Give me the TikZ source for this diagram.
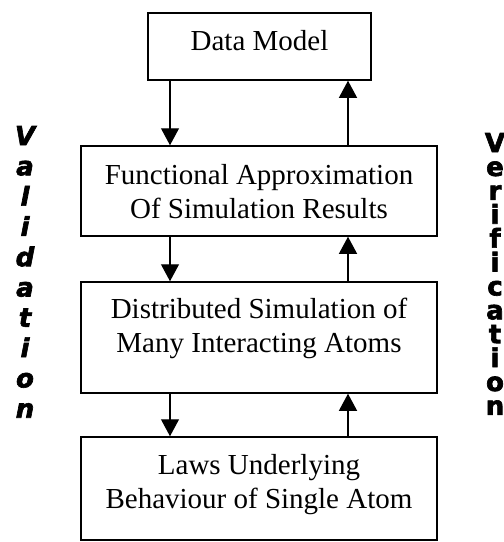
\documentclass[tikz,border=0pt]{standalone}
\usepackage{fontspec}
\setmainfont{Liberation Serif}
\newfontfamily\heavyfont{DejaVu Sans}[UprightFont={* Bold}, ItalicFont={* Bold Oblique}, FakeBold=2.5]
\usepackage{tikz}
\usetikzlibrary{arrows.meta}

\newcommand{\boxtext}[4]{\parbox[c][#1][t]{#2}{\centering\vspace*{#3}#4}}

\begin{document}
\begin{tikzpicture}[x=1pt, y=-1pt,
    blockbox/.style={draw, line width=1.5pt, inner sep=0pt, font={\fontsize{29}{34}\selectfont}},
    flow/.style={-{Triangle[width=18pt,length=17pt]}, line width=1.2pt},
    sideletter/.style={anchor=base, inner sep=0pt, text height=17pt, text depth=0pt, font={\heavyfont\fontsize{26}{26}\selectfont}}]
    \useasboundingbox (0,0) rectangle (504,542);

    \node (dm) at (259.5,46.5) [blockbox] {\boxtext{67pt}{223pt}{17pt}{Data Model}};
    \node (fa) at (259,191) [blockbox] {\boxtext{90pt}{356pt}{18pt}{Functional Approximation\\Of Simulation Results}};
    \node (ds) at (259,337.5) [blockbox] {\boxtext{111pt}{356pt}{16pt}{Distributed Simulation of\\Many Interacting Atoms}};
    \node (lu) at (259,488.5) [blockbox] {\boxtext{103pt}{356pt}{17pt}{Laws Underlying\\Behaviour of Single Atom}};

    \coordinate (L) at (170,0);
    \coordinate (R) at (348,0);

    % downwards
    \draw [flow] (dm.south -| L) -- (fa.north -| L);
    \draw [flow] (fa.south -| L) -- (ds.north -| L);
    \draw [flow] (ds.south -| L) -- (lu.north -| L);

    % upwards
    \draw [flow] (lu.north -| R) -- (ds.south -| R);
    \draw [flow] (ds.north -| R) -- (fa.south -| R);
    \draw [flow] (fa.north -| R) -- (dm.south -| R);

    % side words
    \foreach \ch [count=\i] in {V,a,l,i,d,a,t,i,o,n}
        \node (val\i) at (25,{145+30.3*(\i-1)}) [sideletter] {\itshape\ch};
    \foreach \ch [count=\i] in {V,e,r,i,f,i,c,a,t,i,o,n}
        \node (ver\i) at (495,{152+23.9*(\i-1)}) [sideletter] {\ch};
\end{tikzpicture}
\end{document}
